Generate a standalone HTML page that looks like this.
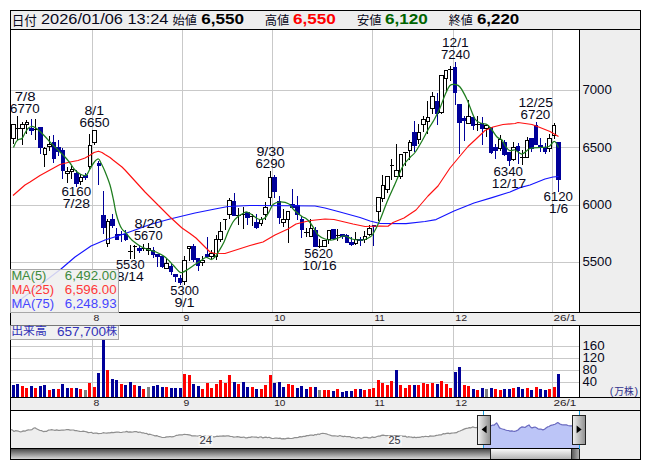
<!DOCTYPE html>
<html lang="ja"><head><meta charset="utf-8"><title>Stock chart</title>
<style>html,body{margin:0;padding:0;background:#fff;overflow:hidden}svg{display:block}text{font-family:"Liberation Sans","Noto Sans CJK JP",sans-serif;white-space:pre}</style>
</head><body>
<svg width="653" height="470" viewBox="0 0 653 470" shape-rendering="crispEdges">
<rect x="0" y="0" width="653" height="470" fill="#fff"/>
<rect x="10" y="10" width="631" height="450" fill="#000"/>
<rect x="11" y="11" width="629" height="448" fill="#eeeeee"/>
<rect x="10" y="29" width="631" height="1" fill="#000"/>
<rect x="11" y="30" width="568" height="282" fill="#fff"/>
<rect x="579" y="29" width="1" height="284" fill="#000"/>
<rect x="10" y="312" width="631" height="1" fill="#000"/>
<rect x="10" y="325" width="631" height="1" fill="#000"/>
<rect x="11" y="326" width="568" height="71" fill="#fff"/>
<rect x="579" y="325" width="1" height="73" fill="#000"/>
<rect x="10" y="397" width="631" height="1" fill="#000"/>
<rect x="10" y="410" width="631" height="1" fill="#000"/>
<rect x="11" y="411" width="568" height="37" fill="#fff"/>
<rect x="10" y="448" width="570" height="1" fill="#000"/>
<rect x="11" y="90" width="568" height="1" fill="#c9c9c9"/>
<rect x="11" y="147" width="568" height="1" fill="#c9c9c9"/>
<rect x="11" y="205" width="568" height="1" fill="#c9c9c9"/>
<rect x="11" y="262" width="568" height="1" fill="#c9c9c9"/>
<rect x="92" y="30" width="1" height="282" fill="#c9c9c9"/>
<rect x="92" y="326" width="1" height="71" fill="#c9c9c9"/>
<rect x="182" y="30" width="1" height="282" fill="#c9c9c9"/>
<rect x="182" y="326" width="1" height="71" fill="#c9c9c9"/>
<rect x="272" y="30" width="1" height="282" fill="#c9c9c9"/>
<rect x="272" y="326" width="1" height="71" fill="#c9c9c9"/>
<rect x="372" y="30" width="1" height="282" fill="#c9c9c9"/>
<rect x="372" y="326" width="1" height="71" fill="#c9c9c9"/>
<rect x="453" y="30" width="1" height="282" fill="#c9c9c9"/>
<rect x="453" y="326" width="1" height="71" fill="#c9c9c9"/>
<rect x="552" y="30" width="1" height="282" fill="#c9c9c9"/>
<rect x="552" y="326" width="1" height="71" fill="#c9c9c9"/>
<rect x="11" y="346" width="568" height="1" fill="#c9c9c9"/>
<rect x="11" y="358" width="568" height="1" fill="#c9c9c9"/>
<rect x="11" y="370" width="568" height="1" fill="#c9c9c9"/>
<rect x="11" y="382" width="568" height="1" fill="#c9c9c9"/>
<g id="candles">
<rect x="13" y="124" width="1" height="20" fill="#000"/>
<rect x="11" y="124" width="5" height="15" fill="#000"/>
<rect x="12" y="125" width="3" height="13" fill="#fff"/>
<rect x="17" y="116" width="1" height="24" fill="#000"/>
<rect x="16" y="128" width="4" height="1" fill="#000"/>
<rect x="22" y="122" width="1" height="23" fill="#000"/>
<rect x="20" y="124" width="5" height="5" fill="#000"/>
<rect x="21" y="125" width="3" height="3" fill="#fff"/>
<rect x="26" y="120" width="1" height="14" fill="#000"/>
<rect x="25" y="122" width="4" height="3" fill="#000"/>
<rect x="26" y="123" width="2" height="1" fill="#fff"/>
<rect x="31" y="119" width="1" height="16" fill="#000099"/>
<rect x="29" y="128" width="5" height="3" fill="#000099"/>
<rect x="35" y="119" width="1" height="21" fill="#000"/>
<rect x="34" y="129" width="4" height="1" fill="#000"/>
<rect x="40" y="127" width="1" height="27" fill="#000099"/>
<rect x="38" y="127" width="5" height="21" fill="#000099"/>
<rect x="44" y="147" width="1" height="20" fill="#000"/>
<rect x="43" y="148" width="4" height="7" fill="#000"/>
<rect x="44" y="149" width="2" height="5" fill="#fff"/>
<rect x="49" y="136" width="1" height="15" fill="#000"/>
<rect x="47" y="144" width="5" height="3" fill="#000"/>
<rect x="48" y="145" width="3" height="1" fill="#fff"/>
<rect x="53" y="135" width="1" height="28" fill="#000099"/>
<rect x="52" y="142" width="4" height="17" fill="#000099"/>
<rect x="58" y="140" width="1" height="16" fill="#000099"/>
<rect x="56" y="147" width="5" height="5" fill="#000099"/>
<rect x="62" y="148" width="1" height="31" fill="#000099"/>
<rect x="61" y="150" width="4" height="21" fill="#000099"/>
<rect x="67" y="167" width="1" height="16" fill="#000"/>
<rect x="65" y="171" width="5" height="3" fill="#000"/>
<rect x="66" y="172" width="3" height="1" fill="#fff"/>
<rect x="71" y="166" width="1" height="13" fill="#000"/>
<rect x="70" y="169" width="4" height="3" fill="#000"/>
<rect x="71" y="170" width="2" height="1" fill="#fff"/>
<rect x="76" y="170" width="1" height="17" fill="#000099"/>
<rect x="74" y="173" width="5" height="11" fill="#000099"/>
<rect x="80" y="174" width="1" height="11" fill="#000"/>
<rect x="79" y="177" width="4" height="5" fill="#000"/>
<rect x="80" y="178" width="2" height="3" fill="#fff"/>
<rect x="85" y="173" width="1" height="7" fill="#000099"/>
<rect x="83" y="175" width="5" height="3" fill="#000099"/>
<rect x="89" y="134" width="1" height="36" fill="#000"/>
<rect x="88" y="145" width="4" height="22" fill="#000"/>
<rect x="89" y="146" width="2" height="20" fill="#fff"/>
<rect x="94" y="130" width="1" height="15" fill="#000"/>
<rect x="92" y="130" width="5" height="13" fill="#000"/>
<rect x="93" y="131" width="3" height="11" fill="#fff"/>
<rect x="98" y="161" width="1" height="24" fill="#000099"/>
<rect x="97" y="163" width="4" height="3" fill="#000099"/>
<rect x="103" y="191" width="1" height="43" fill="#000099"/>
<rect x="101" y="215" width="5" height="13" fill="#000099"/>
<rect x="107" y="219" width="1" height="28" fill="#000"/>
<rect x="106" y="221" width="4" height="23" fill="#000"/>
<rect x="107" y="222" width="2" height="21" fill="#fff"/>
<rect x="112" y="214" width="1" height="14" fill="#000099"/>
<rect x="110" y="219" width="5" height="7" fill="#000099"/>
<rect x="116" y="228" width="1" height="12" fill="#000099"/>
<rect x="115" y="234" width="4" height="6" fill="#000099"/>
<rect x="121" y="231" width="1" height="11" fill="#000099"/>
<rect x="119" y="234" width="5" height="1" fill="#000099"/>
<rect x="125" y="230" width="1" height="11" fill="#000099"/>
<rect x="124" y="234" width="4" height="6" fill="#000099"/>
<rect x="130" y="245" width="1" height="14" fill="#000"/>
<rect x="128" y="251" width="5" height="1" fill="#000"/>
<rect x="134" y="245" width="1" height="14" fill="#000"/>
<rect x="133" y="246" width="4" height="1" fill="#000"/>
<rect x="139" y="245" width="1" height="8" fill="#000099"/>
<rect x="137" y="248" width="5" height="3" fill="#000099"/>
<rect x="143" y="244" width="1" height="7" fill="#000"/>
<rect x="142" y="248" width="4" height="1" fill="#000"/>
<rect x="148" y="243" width="1" height="12" fill="#000"/>
<rect x="146" y="248" width="5" height="3" fill="#000"/>
<rect x="147" y="249" width="3" height="1" fill="#fff"/>
<rect x="153" y="247" width="1" height="11" fill="#000099"/>
<rect x="151" y="250" width="4" height="5" fill="#000099"/>
<rect x="157" y="254" width="1" height="13" fill="#000099"/>
<rect x="155" y="254" width="5" height="3" fill="#000099"/>
<rect x="162" y="256" width="1" height="12" fill="#000099"/>
<rect x="160" y="256" width="4" height="11" fill="#000099"/>
<rect x="166" y="259" width="1" height="10" fill="#000"/>
<rect x="164" y="263" width="5" height="6" fill="#000"/>
<rect x="165" y="264" width="3" height="4" fill="#fff"/>
<rect x="171" y="263" width="1" height="12" fill="#000099"/>
<rect x="169" y="266" width="4" height="6" fill="#000099"/>
<rect x="175" y="274" width="1" height="8" fill="#000099"/>
<rect x="173" y="274" width="5" height="3" fill="#000099"/>
<rect x="180" y="275" width="1" height="10" fill="#000099"/>
<rect x="178" y="278" width="4" height="5" fill="#000099"/>
<rect x="184" y="256" width="1" height="29" fill="#000"/>
<rect x="182" y="260" width="5" height="22" fill="#000"/>
<rect x="183" y="261" width="3" height="20" fill="#fff"/>
<rect x="189" y="246" width="1" height="15" fill="#000"/>
<rect x="187" y="246" width="4" height="3" fill="#000"/>
<rect x="188" y="247" width="2" height="1" fill="#fff"/>
<rect x="193" y="244" width="1" height="18" fill="#000099"/>
<rect x="191" y="246" width="5" height="14" fill="#000099"/>
<rect x="198" y="258" width="1" height="13" fill="#000099"/>
<rect x="196" y="258" width="4" height="8" fill="#000099"/>
<rect x="202" y="256" width="1" height="10" fill="#000"/>
<rect x="200" y="260" width="5" height="3" fill="#000"/>
<rect x="201" y="261" width="3" height="1" fill="#fff"/>
<rect x="207" y="237" width="1" height="20" fill="#000099"/>
<rect x="205" y="254" width="4" height="3" fill="#000099"/>
<rect x="211" y="250" width="1" height="9" fill="#000"/>
<rect x="209" y="253" width="5" height="4" fill="#000"/>
<rect x="210" y="254" width="3" height="2" fill="#fff"/>
<rect x="216" y="235" width="1" height="25" fill="#000"/>
<rect x="214" y="239" width="4" height="18" fill="#000"/>
<rect x="215" y="240" width="2" height="16" fill="#fff"/>
<rect x="220" y="222" width="1" height="20" fill="#000"/>
<rect x="218" y="231" width="5" height="9" fill="#000"/>
<rect x="219" y="232" width="3" height="7" fill="#fff"/>
<rect x="225" y="219" width="1" height="11" fill="#000"/>
<rect x="223" y="219" width="4" height="1" fill="#000"/>
<rect x="229" y="198" width="1" height="21" fill="#000"/>
<rect x="227" y="200" width="5" height="15" fill="#000"/>
<rect x="228" y="201" width="3" height="13" fill="#fff"/>
<rect x="234" y="193" width="1" height="23" fill="#000099"/>
<rect x="232" y="201" width="4" height="15" fill="#000099"/>
<rect x="238" y="208" width="1" height="17" fill="#000"/>
<rect x="236" y="215" width="5" height="1" fill="#000"/>
<rect x="243" y="207" width="1" height="22" fill="#000"/>
<rect x="241" y="214" width="4" height="1" fill="#000"/>
<rect x="247" y="212" width="1" height="13" fill="#000099"/>
<rect x="245" y="212" width="5" height="6" fill="#000099"/>
<rect x="252" y="214" width="1" height="12" fill="#000"/>
<rect x="250" y="216" width="4" height="1" fill="#000"/>
<rect x="256" y="214" width="1" height="15" fill="#000099"/>
<rect x="254" y="222" width="5" height="6" fill="#000099"/>
<rect x="261" y="217" width="1" height="9" fill="#000"/>
<rect x="259" y="219" width="4" height="5" fill="#000"/>
<rect x="260" y="220" width="2" height="3" fill="#fff"/>
<rect x="265" y="202" width="1" height="18" fill="#000"/>
<rect x="263" y="207" width="5" height="8" fill="#000"/>
<rect x="264" y="208" width="3" height="6" fill="#fff"/>
<rect x="270" y="171" width="1" height="35" fill="#000"/>
<rect x="268" y="177" width="4" height="21" fill="#000"/>
<rect x="269" y="178" width="2" height="19" fill="#fff"/>
<rect x="274" y="175" width="1" height="23" fill="#000099"/>
<rect x="272" y="177" width="5" height="15" fill="#000099"/>
<rect x="279" y="196" width="1" height="28" fill="#000099"/>
<rect x="277" y="201" width="4" height="17" fill="#000099"/>
<rect x="283" y="209" width="1" height="18" fill="#000"/>
<rect x="281" y="219" width="5" height="4" fill="#000"/>
<rect x="282" y="220" width="3" height="2" fill="#fff"/>
<rect x="288" y="211" width="1" height="32" fill="#000"/>
<rect x="286" y="211" width="4" height="9" fill="#000"/>
<rect x="287" y="212" width="2" height="7" fill="#fff"/>
<rect x="292" y="189" width="1" height="20" fill="#000099"/>
<rect x="290" y="204" width="5" height="4" fill="#000099"/>
<rect x="297" y="196" width="1" height="24" fill="#000099"/>
<rect x="295" y="205" width="5" height="10" fill="#000099"/>
<rect x="301" y="216" width="1" height="22" fill="#000099"/>
<rect x="300" y="219" width="4" height="11" fill="#000099"/>
<rect x="306" y="228" width="1" height="9" fill="#000"/>
<rect x="304" y="232" width="5" height="1" fill="#000"/>
<rect x="310" y="219" width="1" height="18" fill="#000"/>
<rect x="309" y="228" width="4" height="9" fill="#000"/>
<rect x="310" y="229" width="2" height="7" fill="#fff"/>
<rect x="315" y="227" width="1" height="20" fill="#000099"/>
<rect x="313" y="230" width="5" height="17" fill="#000099"/>
<rect x="319" y="239" width="1" height="9" fill="#000"/>
<rect x="318" y="246" width="4" height="1" fill="#000"/>
<rect x="324" y="240" width="1" height="7" fill="#000"/>
<rect x="322" y="240" width="5" height="7" fill="#000"/>
<rect x="323" y="241" width="3" height="5" fill="#fff"/>
<rect x="328" y="230" width="1" height="14" fill="#000"/>
<rect x="327" y="230" width="4" height="10" fill="#000"/>
<rect x="328" y="231" width="2" height="8" fill="#fff"/>
<rect x="333" y="229" width="1" height="10" fill="#000099"/>
<rect x="331" y="229" width="5" height="10" fill="#000099"/>
<rect x="337" y="229" width="1" height="12" fill="#000"/>
<rect x="336" y="235" width="4" height="1" fill="#000"/>
<rect x="342" y="234" width="1" height="5" fill="#000099"/>
<rect x="340" y="234" width="5" height="3" fill="#000099"/>
<rect x="346" y="234" width="1" height="9" fill="#000099"/>
<rect x="345" y="235" width="4" height="8" fill="#000099"/>
<rect x="351" y="237" width="1" height="9" fill="#000099"/>
<rect x="349" y="242" width="5" height="3" fill="#000099"/>
<rect x="355" y="232" width="1" height="13" fill="#000"/>
<rect x="354" y="239" width="4" height="5" fill="#000"/>
<rect x="355" y="240" width="2" height="3" fill="#fff"/>
<rect x="360" y="237" width="1" height="9" fill="#000099"/>
<rect x="358" y="239" width="5" height="2" fill="#000099"/>
<rect x="364" y="231" width="1" height="12" fill="#000"/>
<rect x="363" y="236" width="4" height="4" fill="#000"/>
<rect x="364" y="237" width="2" height="2" fill="#fff"/>
<rect x="369" y="225" width="1" height="11" fill="#000"/>
<rect x="367" y="228" width="5" height="7" fill="#000"/>
<rect x="368" y="229" width="3" height="5" fill="#fff"/>
<rect x="373" y="225" width="1" height="21" fill="#000099"/>
<rect x="372" y="225" width="4" height="2" fill="#000099"/>
<rect x="378" y="197" width="1" height="24" fill="#000"/>
<rect x="376" y="197" width="5" height="15" fill="#000"/>
<rect x="377" y="198" width="3" height="13" fill="#fff"/>
<rect x="382" y="175" width="1" height="27" fill="#000"/>
<rect x="381" y="185" width="4" height="14" fill="#000"/>
<rect x="382" y="186" width="2" height="12" fill="#fff"/>
<rect x="387" y="176" width="1" height="17" fill="#000"/>
<rect x="385" y="176" width="5" height="14" fill="#000"/>
<rect x="386" y="177" width="3" height="12" fill="#fff"/>
<rect x="391" y="159" width="1" height="21" fill="#000"/>
<rect x="390" y="165" width="4" height="1" fill="#000"/>
<rect x="396" y="144" width="1" height="33" fill="#000"/>
<rect x="394" y="170" width="5" height="7" fill="#000"/>
<rect x="395" y="171" width="3" height="5" fill="#fff"/>
<rect x="400" y="154" width="1" height="25" fill="#000"/>
<rect x="399" y="154" width="4" height="23" fill="#000"/>
<rect x="400" y="155" width="2" height="21" fill="#fff"/>
<rect x="405" y="152" width="1" height="14" fill="#000"/>
<rect x="403" y="152" width="5" height="1" fill="#000"/>
<rect x="409" y="140" width="1" height="20" fill="#000"/>
<rect x="408" y="142" width="4" height="9" fill="#000"/>
<rect x="409" y="143" width="2" height="7" fill="#fff"/>
<rect x="414" y="121" width="1" height="31" fill="#000099"/>
<rect x="412" y="132" width="5" height="14" fill="#000099"/>
<rect x="418" y="124" width="1" height="20" fill="#000"/>
<rect x="417" y="132" width="4" height="8" fill="#000"/>
<rect x="418" y="133" width="2" height="6" fill="#fff"/>
<rect x="423" y="116" width="1" height="16" fill="#000"/>
<rect x="421" y="119" width="5" height="6" fill="#000"/>
<rect x="422" y="120" width="3" height="4" fill="#fff"/>
<rect x="427" y="101" width="1" height="33" fill="#000"/>
<rect x="426" y="117" width="4" height="5" fill="#000"/>
<rect x="427" y="118" width="2" height="3" fill="#fff"/>
<rect x="432" y="92" width="1" height="22" fill="#000"/>
<rect x="430" y="96" width="5" height="13" fill="#000"/>
<rect x="431" y="97" width="3" height="11" fill="#fff"/>
<rect x="437" y="93" width="1" height="32" fill="#000099"/>
<rect x="435" y="101" width="4" height="13" fill="#000099"/>
<rect x="441" y="75" width="1" height="39" fill="#000"/>
<rect x="439" y="75" width="5" height="38" fill="#000"/>
<rect x="440" y="76" width="3" height="36" fill="#fff"/>
<rect x="446" y="70" width="1" height="21" fill="#000"/>
<rect x="444" y="70" width="4" height="9" fill="#000"/>
<rect x="445" y="71" width="2" height="7" fill="#fff"/>
<rect x="450" y="66" width="1" height="15" fill="#000"/>
<rect x="448" y="69" width="5" height="1" fill="#000"/>
<rect x="455" y="62" width="1" height="43" fill="#000099"/>
<rect x="453" y="67" width="4" height="26" fill="#000099"/>
<rect x="459" y="104" width="1" height="50" fill="#000099"/>
<rect x="457" y="104" width="5" height="19" fill="#000099"/>
<rect x="464" y="116" width="1" height="25" fill="#000099"/>
<rect x="462" y="118" width="4" height="3" fill="#000099"/>
<rect x="468" y="100" width="1" height="24" fill="#000"/>
<rect x="466" y="116" width="5" height="8" fill="#000"/>
<rect x="467" y="117" width="3" height="6" fill="#fff"/>
<rect x="473" y="117" width="1" height="13" fill="#000099"/>
<rect x="471" y="117" width="4" height="9" fill="#000099"/>
<rect x="477" y="116" width="1" height="15" fill="#000"/>
<rect x="475" y="124" width="5" height="1" fill="#000"/>
<rect x="482" y="117" width="1" height="28" fill="#000099"/>
<rect x="480" y="123" width="4" height="6" fill="#000099"/>
<rect x="486" y="125" width="1" height="12" fill="#000"/>
<rect x="484" y="125" width="5" height="4" fill="#000"/>
<rect x="485" y="126" width="3" height="2" fill="#fff"/>
<rect x="491" y="127" width="1" height="27" fill="#000099"/>
<rect x="489" y="127" width="4" height="26" fill="#000099"/>
<rect x="495" y="144" width="1" height="15" fill="#000099"/>
<rect x="493" y="147" width="5" height="4" fill="#000099"/>
<rect x="500" y="135" width="1" height="16" fill="#000"/>
<rect x="498" y="139" width="4" height="10" fill="#000"/>
<rect x="499" y="140" width="2" height="8" fill="#fff"/>
<rect x="504" y="140" width="1" height="16" fill="#000099"/>
<rect x="502" y="142" width="5" height="13" fill="#000099"/>
<rect x="509" y="152" width="1" height="14" fill="#000099"/>
<rect x="507" y="152" width="4" height="9" fill="#000099"/>
<rect x="513" y="142" width="1" height="19" fill="#000"/>
<rect x="511" y="147" width="5" height="13" fill="#000"/>
<rect x="512" y="148" width="3" height="11" fill="#fff"/>
<rect x="518" y="143" width="1" height="21" fill="#000099"/>
<rect x="516" y="146" width="4" height="5" fill="#000099"/>
<rect x="522" y="150" width="1" height="15" fill="#000"/>
<rect x="520" y="157" width="5" height="1" fill="#000"/>
<rect x="527" y="137" width="1" height="21" fill="#000"/>
<rect x="525" y="140" width="4" height="18" fill="#000"/>
<rect x="526" y="141" width="2" height="16" fill="#fff"/>
<rect x="531" y="138" width="1" height="14" fill="#000099"/>
<rect x="529" y="138" width="5" height="11" fill="#000099"/>
<rect x="536" y="122" width="1" height="23" fill="#000099"/>
<rect x="534" y="125" width="4" height="20" fill="#000099"/>
<rect x="540" y="138" width="1" height="14" fill="#000099"/>
<rect x="538" y="145" width="5" height="3" fill="#000099"/>
<rect x="545" y="143" width="1" height="11" fill="#000099"/>
<rect x="543" y="147" width="4" height="5" fill="#000099"/>
<rect x="549" y="134" width="1" height="18" fill="#000"/>
<rect x="547" y="138" width="5" height="11" fill="#000"/>
<rect x="548" y="139" width="3" height="9" fill="#fff"/>
<rect x="554" y="123" width="1" height="16" fill="#000"/>
<rect x="552" y="125" width="4" height="11" fill="#000"/>
<rect x="553" y="126" width="2" height="9" fill="#fff"/>
<rect x="558" y="142" width="1" height="50" fill="#000099"/>
<rect x="556" y="142" width="5" height="38" fill="#000099"/>
</g>
<g fill="none" stroke-width="1.15" shape-rendering="geometricPrecision" stroke-linejoin="round">
<path d="M13.0,306.0 L20.0,300.0 L40.0,285.0 L61.0,269.0 L75.0,257.0 L91.0,246.0 L105.0,240.0 L121.0,235.0 L135.0,230.0 L150.0,224.5 L170.0,219.0 L195.0,213.0 L215.0,209.0 L228.0,206.5 L250.0,205.5 L290.0,205.8 L315.0,206.0 L325.0,208.0 L340.0,212.0 L360.0,217.5 L370.0,221.0 L380.0,223.5 L406.0,223.6 L425.0,221.5 L436.0,219.6 L454.0,211.0 L474.0,203.0 L492.0,197.6 L510.0,192.0 L520.0,187.6 L530.0,185.0 L545.0,179.0 L553.0,177.0 L558.5,176.5" stroke="#1414ff"/>
<path d="M13.0,195.5 L25.0,185.0 L30.0,182.0 L40.0,175.5 L50.0,170.0 L60.0,164.5 L70.0,162.0 L78.0,160.5 L85.0,158.0 L90.0,155.3 L94.0,152.5 L98.5,151.2 L102.0,152.5 L105.0,154.5 L110.0,157.5 L113.0,160.0 L122.0,167.0 L125.0,170.0 L135.0,181.0 L145.0,192.0 L150.0,197.0 L160.0,207.0 L170.0,217.0 L182.0,228.0 L190.0,233.5 L196.0,238.0 L203.0,245.0 L210.0,252.0 L214.0,253.3 L225.0,253.5 L250.0,245.5 L263.0,242.0 L275.0,235.0 L288.0,229.0 L296.0,224.0 L306.0,221.5 L311.0,220.5 L325.0,219.0 L334.0,219.5 L353.0,224.0 L365.0,226.5 L380.0,226.0 L388.0,226.3 L393.0,222.5 L404.0,218.0 L416.0,210.0 L428.0,196.0 L438.0,186.0 L450.0,168.0 L460.0,156.0 L468.0,146.5 L475.0,140.0 L485.0,130.5 L493.0,127.0 L503.0,124.5 L515.0,123.5 L518.0,122.5 L532.0,124.5 L540.0,127.5 L550.0,131.5 L558.5,136.5" stroke="#ff1010"/>
<path d="M13.5,147.5C13.9,146.6 15.2,143.3 16.0,142.0C16.8,140.7 17.5,140.1 18.5,139.5C19.5,138.9 20.9,139.6 22.0,138.5C23.1,137.4 24.0,134.7 25.0,133.0C26.0,131.3 26.9,129.6 28.0,128.5C29.1,127.4 30.3,126.7 31.5,126.5C32.7,126.3 33.6,126.7 35.0,127.5C36.4,128.3 38.3,130.0 40.0,131.5C41.7,133.0 43.3,134.8 45.0,136.5C46.7,138.2 48.3,140.2 50.0,142.0C51.7,143.8 53.3,145.3 55.0,147.0C56.7,148.7 58.3,150.3 60.0,152.0C61.7,153.7 63.3,155.2 65.0,157.0C66.7,158.8 68.3,160.8 70.0,163.0C71.7,165.2 73.3,168.2 75.0,170.0C76.7,171.8 78.5,173.1 80.0,174.0C81.5,174.9 82.8,175.4 84.0,175.5C85.2,175.6 86.0,175.6 87.0,174.5C88.0,173.4 88.8,171.0 90.0,169.0C91.2,167.0 92.6,164.2 94.0,162.5C95.4,160.8 97.3,158.9 98.5,159.0C99.7,159.1 99.9,160.9 101.0,163.0C102.1,165.1 103.5,167.8 105.0,171.5C106.5,175.2 108.6,180.2 110.0,185.0C111.4,189.8 112.5,195.3 113.5,200.0C114.5,204.7 115.1,209.2 116.0,213.0C116.9,216.8 118.0,220.3 119.0,223.0C120.0,225.7 120.8,227.3 122.0,229.0C123.2,230.7 124.7,231.5 126.0,233.0C127.3,234.5 128.8,236.7 130.0,238.0C131.2,239.3 131.3,239.7 133.0,241.0C134.7,242.3 137.5,244.6 140.0,246.0C142.5,247.4 145.3,248.5 148.0,249.5C150.7,250.5 153.2,250.8 156.0,252.0C158.8,253.2 162.2,254.8 165.0,257.0C167.8,259.2 170.7,262.6 173.0,265.0C175.3,267.4 177.5,270.2 179.0,271.5C180.5,272.8 180.7,272.8 182.0,272.5C183.3,272.2 184.8,271.3 187.0,270.0C189.2,268.7 192.7,266.1 195.0,264.5C197.3,262.9 199.2,261.7 201.0,260.5C202.8,259.3 204.2,257.7 206.0,257.5C207.8,257.3 210.0,259.6 211.5,259.5C213.0,259.4 213.8,258.4 215.0,257.0C216.2,255.6 217.5,253.5 219.0,251.0C220.5,248.5 222.5,245.2 224.0,242.0C225.5,238.8 226.5,235.3 228.0,232.0C229.5,228.7 231.3,224.6 233.0,222.0C234.7,219.4 236.3,217.9 238.0,216.5C239.7,215.1 241.5,214.2 243.0,213.5C244.5,212.8 245.3,211.7 247.0,212.0C248.7,212.3 251.3,214.4 253.0,215.5C254.7,216.6 255.7,217.8 257.0,218.5C258.3,219.2 259.6,219.7 261.0,219.5C262.4,219.3 264.2,218.8 265.5,217.5C266.8,216.2 267.8,214.2 269.0,212.0C270.2,209.8 271.2,206.2 273.0,204.5C274.8,202.8 277.3,202.1 280.0,202.0C282.7,201.9 286.7,202.7 289.0,204.0C291.3,205.3 291.8,207.9 294.0,210.0C296.2,212.1 300.0,215.1 302.0,216.5C304.0,217.9 304.7,217.5 306.0,218.5C307.3,219.5 308.5,220.6 310.0,222.5C311.5,224.4 313.7,227.9 315.0,230.0C316.3,232.1 316.3,233.5 318.0,235.0C319.7,236.5 322.7,238.2 325.0,239.0C327.3,239.8 329.8,240.2 332.0,240.0C334.2,239.8 335.8,238.7 338.0,238.0C340.2,237.3 342.7,235.8 345.0,236.0C347.3,236.2 349.7,238.3 352.0,239.0C354.3,239.7 356.8,239.9 359.0,240.0C361.2,240.1 363.2,240.0 365.0,239.5C366.8,239.0 368.7,237.9 370.0,237.0C371.3,236.1 371.3,236.8 373.0,234.0C374.7,231.2 377.7,225.3 380.0,220.0C382.3,214.7 384.5,208.0 387.0,202.0C389.5,196.0 392.3,190.0 395.0,184.0C397.7,178.0 400.5,170.4 403.0,166.0C405.5,161.6 408.0,159.8 410.0,157.5C412.0,155.2 413.0,155.2 415.0,152.5C417.0,149.8 419.7,145.1 422.0,141.0C424.3,136.9 427.0,131.5 429.0,128.0C431.0,124.5 432.2,123.3 434.0,120.0C435.8,116.7 438.2,112.2 440.0,108.0C441.8,103.8 443.3,98.8 445.0,95.0C446.7,91.2 448.3,87.2 450.0,85.5C451.7,83.8 453.3,84.2 455.0,84.5C456.7,84.8 458.0,84.5 460.0,87.0C462.0,89.5 464.5,94.2 467.0,99.5C469.5,104.8 472.5,115.0 475.0,119.0C477.5,123.0 480.0,122.6 482.0,123.5C484.0,124.4 485.3,123.4 487.0,124.5C488.7,125.6 490.3,127.9 492.0,130.0C493.7,132.1 495.3,135.3 497.0,137.0C498.7,138.7 500.7,138.6 502.0,140.0C503.3,141.4 503.8,143.8 505.0,145.5C506.2,147.2 507.8,149.8 509.5,150.5C511.2,151.2 512.9,149.4 515.0,150.0C517.1,150.6 519.5,154.2 522.0,154.0C524.5,153.8 526.8,149.6 530.0,148.5C533.2,147.4 537.8,147.8 541.0,147.5C544.2,147.2 546.8,147.5 549.0,146.5C551.2,145.5 552.9,141.3 554.5,141.5C556.1,141.7 557.8,146.5 558.5,147.5" stroke="#1e7d1e" stroke-width="1.25"/>
</g>
<g id="vol">
<rect x="12" y="385" width="3" height="12" fill="#000099"/>
<rect x="16" y="384" width="3" height="13" fill="#000099"/>
<rect x="21" y="386" width="3" height="11" fill="#ff0000"/>
<rect x="25" y="388" width="3" height="9" fill="#ff0000"/>
<rect x="30" y="386" width="3" height="11" fill="#000099"/>
<rect x="34" y="388" width="3" height="9" fill="#ff0000"/>
<rect x="39" y="386" width="3" height="11" fill="#000099"/>
<rect x="43" y="385" width="3" height="12" fill="#000099"/>
<rect x="48" y="390" width="3" height="7" fill="#ff0000"/>
<rect x="52" y="389" width="3" height="8" fill="#000099"/>
<rect x="57" y="389" width="3" height="8" fill="#ff0000"/>
<rect x="61" y="384" width="3" height="13" fill="#000099"/>
<rect x="66" y="388" width="3" height="9" fill="#000099"/>
<rect x="70" y="388" width="3" height="9" fill="#ff0000"/>
<rect x="75" y="388" width="3" height="9" fill="#000099"/>
<rect x="79" y="389" width="3" height="8" fill="#ff0000"/>
<rect x="84" y="390" width="3" height="7" fill="#808080"/>
<rect x="88" y="383" width="3" height="14" fill="#ff0000"/>
<rect x="93" y="387" width="3" height="10" fill="#ff0000"/>
<rect x="97" y="373" width="3" height="24" fill="#000099"/>
<rect x="102" y="340" width="3" height="57" fill="#000099"/>
<rect x="106" y="370" width="3" height="27" fill="#ff0000"/>
<rect x="111" y="379" width="3" height="18" fill="#000099"/>
<rect x="115" y="380" width="3" height="17" fill="#000099"/>
<rect x="120" y="384" width="3" height="13" fill="#ff0000"/>
<rect x="124" y="385" width="3" height="12" fill="#000099"/>
<rect x="129" y="382" width="3" height="15" fill="#000099"/>
<rect x="133" y="385" width="3" height="12" fill="#ff0000"/>
<rect x="138" y="386" width="3" height="11" fill="#000099"/>
<rect x="142" y="389" width="3" height="8" fill="#ff0000"/>
<rect x="147" y="387" width="3" height="10" fill="#808080"/>
<rect x="152" y="386" width="3" height="11" fill="#000099"/>
<rect x="156" y="385" width="3" height="12" fill="#000099"/>
<rect x="161" y="387" width="3" height="10" fill="#000099"/>
<rect x="165" y="387" width="3" height="10" fill="#ff0000"/>
<rect x="170" y="388" width="3" height="9" fill="#000099"/>
<rect x="174" y="388" width="3" height="9" fill="#000099"/>
<rect x="179" y="388" width="3" height="9" fill="#000099"/>
<rect x="183" y="374" width="3" height="23" fill="#ff0000"/>
<rect x="188" y="375" width="3" height="22" fill="#ff0000"/>
<rect x="192" y="384" width="3" height="13" fill="#000099"/>
<rect x="197" y="386" width="3" height="11" fill="#000099"/>
<rect x="201" y="389" width="3" height="8" fill="#ff0000"/>
<rect x="206" y="383" width="3" height="14" fill="#ff0000"/>
<rect x="210" y="388" width="3" height="9" fill="#ff0000"/>
<rect x="215" y="384" width="3" height="13" fill="#ff0000"/>
<rect x="219" y="380" width="3" height="17" fill="#ff0000"/>
<rect x="224" y="383" width="3" height="14" fill="#ff0000"/>
<rect x="228" y="375" width="3" height="22" fill="#ff0000"/>
<rect x="233" y="382" width="3" height="15" fill="#000099"/>
<rect x="237" y="384" width="3" height="13" fill="#ff0000"/>
<rect x="242" y="382" width="3" height="15" fill="#000099"/>
<rect x="246" y="387" width="3" height="10" fill="#000099"/>
<rect x="251" y="387" width="3" height="10" fill="#ff0000"/>
<rect x="255" y="389" width="3" height="8" fill="#000099"/>
<rect x="260" y="389" width="3" height="8" fill="#ff0000"/>
<rect x="264" y="385" width="3" height="12" fill="#ff0000"/>
<rect x="269" y="375" width="3" height="22" fill="#ff0000"/>
<rect x="273" y="383" width="3" height="14" fill="#000099"/>
<rect x="278" y="382" width="3" height="15" fill="#000099"/>
<rect x="282" y="387" width="3" height="10" fill="#000099"/>
<rect x="287" y="384" width="3" height="13" fill="#ff0000"/>
<rect x="291" y="385" width="3" height="12" fill="#ff0000"/>
<rect x="296" y="388" width="3" height="9" fill="#000099"/>
<rect x="300" y="386" width="3" height="11" fill="#000099"/>
<rect x="305" y="389" width="3" height="8" fill="#000099"/>
<rect x="309" y="387" width="3" height="10" fill="#ff0000"/>
<rect x="314" y="387" width="3" height="10" fill="#000099"/>
<rect x="318" y="390" width="3" height="7" fill="#808080"/>
<rect x="323" y="390" width="3" height="7" fill="#ff0000"/>
<rect x="327" y="390" width="3" height="7" fill="#ff0000"/>
<rect x="332" y="391" width="3" height="6" fill="#000099"/>
<rect x="336" y="389" width="3" height="8" fill="#ff0000"/>
<rect x="341" y="392" width="3" height="5" fill="#000099"/>
<rect x="345" y="391" width="3" height="6" fill="#000099"/>
<rect x="350" y="391" width="3" height="6" fill="#000099"/>
<rect x="354" y="389" width="3" height="8" fill="#ff0000"/>
<rect x="359" y="389" width="3" height="8" fill="#000099"/>
<rect x="363" y="390" width="3" height="7" fill="#ff0000"/>
<rect x="368" y="389" width="3" height="8" fill="#ff0000"/>
<rect x="372" y="388" width="3" height="9" fill="#ff0000"/>
<rect x="377" y="380" width="3" height="17" fill="#ff0000"/>
<rect x="381" y="383" width="3" height="14" fill="#ff0000"/>
<rect x="386" y="385" width="3" height="12" fill="#ff0000"/>
<rect x="390" y="381" width="3" height="16" fill="#ff0000"/>
<rect x="395" y="370" width="3" height="27" fill="#000099"/>
<rect x="399" y="385" width="3" height="12" fill="#ff0000"/>
<rect x="404" y="388" width="3" height="9" fill="#ff0000"/>
<rect x="408" y="385" width="3" height="12" fill="#ff0000"/>
<rect x="413" y="385" width="3" height="12" fill="#000099"/>
<rect x="417" y="385" width="3" height="12" fill="#ff0000"/>
<rect x="422" y="383" width="3" height="14" fill="#ff0000"/>
<rect x="426" y="384" width="3" height="13" fill="#ff0000"/>
<rect x="431" y="383" width="3" height="14" fill="#ff0000"/>
<rect x="436" y="384" width="3" height="13" fill="#000099"/>
<rect x="440" y="381" width="3" height="16" fill="#ff0000"/>
<rect x="445" y="384" width="3" height="13" fill="#ff0000"/>
<rect x="449" y="388" width="3" height="9" fill="#ff0000"/>
<rect x="454" y="372" width="3" height="25" fill="#000099"/>
<rect x="458" y="367" width="3" height="30" fill="#000099"/>
<rect x="463" y="385" width="3" height="12" fill="#ff0000"/>
<rect x="467" y="386" width="3" height="11" fill="#ff0000"/>
<rect x="472" y="389" width="3" height="8" fill="#000099"/>
<rect x="476" y="390" width="3" height="7" fill="#ff0000"/>
<rect x="481" y="388" width="3" height="9" fill="#000099"/>
<rect x="485" y="389" width="3" height="8" fill="#808080"/>
<rect x="490" y="388" width="3" height="9" fill="#000099"/>
<rect x="494" y="389" width="3" height="8" fill="#ff0000"/>
<rect x="499" y="390" width="3" height="7" fill="#ff0000"/>
<rect x="503" y="389" width="3" height="8" fill="#000099"/>
<rect x="508" y="389" width="3" height="8" fill="#000099"/>
<rect x="512" y="388" width="3" height="9" fill="#ff0000"/>
<rect x="517" y="387" width="3" height="10" fill="#000099"/>
<rect x="521" y="389" width="3" height="8" fill="#000099"/>
<rect x="526" y="388" width="3" height="9" fill="#ff0000"/>
<rect x="530" y="390" width="3" height="7" fill="#000099"/>
<rect x="535" y="387" width="3" height="10" fill="#ff0000"/>
<rect x="539" y="389" width="3" height="8" fill="#000099"/>
<rect x="544" y="390" width="3" height="7" fill="#000099"/>
<rect x="548" y="389" width="3" height="8" fill="#ff0000"/>
<rect x="553" y="387" width="3" height="10" fill="#ff0000"/>
<rect x="557" y="374" width="3" height="23" fill="#000099"/>
</g>
<g id="labels" shape-rendering="geometricPrecision">
<text x="14.80" y="101.00" font-size="12.0" fill="#08081a" textLength="20.80" lengthAdjust="spacingAndGlyphs">7/8</text>
<text x="10.00" y="113.00" font-size="12.0" fill="#08081a" textLength="29.60" lengthAdjust="spacingAndGlyphs">6770</text>
<text x="84.40" y="115.00" font-size="12.0" fill="#08081a" textLength="19.60" lengthAdjust="spacingAndGlyphs">8/1</text>
<text x="79.40" y="127.10" font-size="12.0" fill="#08081a" textLength="30.20" lengthAdjust="spacingAndGlyphs">6650</text>
<text x="61.40" y="196.00" font-size="12.0" fill="#08081a" textLength="29.80" lengthAdjust="spacingAndGlyphs">6160</text>
<text x="62.80" y="208.00" font-size="12.0" fill="#08081a" textLength="27.20" lengthAdjust="spacingAndGlyphs">7/28</text>
<text x="134.40" y="228.10" font-size="12.0" fill="#08081a" textLength="28.20" lengthAdjust="spacingAndGlyphs">8/20</text>
<text x="133.95" y="240.10" font-size="12.0" fill="#08081a" textLength="28.70" lengthAdjust="spacingAndGlyphs">5670</text>
<text x="115.95" y="269.10" font-size="12.0" fill="#08081a" textLength="28.70" lengthAdjust="spacingAndGlyphs">5530</text>
<text x="116.70" y="281.10" font-size="12.0" fill="#08081a" textLength="27.20" lengthAdjust="spacingAndGlyphs">8/14</text>
<text x="170.35" y="295.10" font-size="12.0" fill="#08081a" textLength="28.70" lengthAdjust="spacingAndGlyphs">5300</text>
<text x="174.40" y="307.10" font-size="12.0" fill="#08081a" textLength="20.20" lengthAdjust="spacingAndGlyphs">9/1</text>
<text x="256.40" y="156.20" font-size="12.0" fill="#08081a" textLength="27.80" lengthAdjust="spacingAndGlyphs">9/30</text>
<text x="255.40" y="168.20" font-size="12.0" fill="#08081a" textLength="29.60" lengthAdjust="spacingAndGlyphs">6290</text>
<text x="304.35" y="258.10" font-size="12.0" fill="#08081a" textLength="28.70" lengthAdjust="spacingAndGlyphs">5620</text>
<text x="302.30" y="270.10" font-size="12.0" fill="#08081a" textLength="34.40" lengthAdjust="spacingAndGlyphs">10/16</text>
<text x="441.95" y="47.10" font-size="12.0" fill="#08081a" textLength="26.70" lengthAdjust="spacingAndGlyphs">12/1</text>
<text x="440.90" y="59.10" font-size="12.0" fill="#08081a" textLength="29.20" lengthAdjust="spacingAndGlyphs">7240</text>
<text x="518.40" y="106.90" font-size="12.0" fill="#08081a" textLength="34.60" lengthAdjust="spacingAndGlyphs">12/25</text>
<text x="520.50" y="118.90" font-size="12.0" fill="#08081a" textLength="29.80" lengthAdjust="spacingAndGlyphs">6720</text>
<text x="493.40" y="176.40" font-size="12.0" fill="#08081a" textLength="29.60" lengthAdjust="spacingAndGlyphs">6340</text>
<text x="491.80" y="188.40" font-size="12.0" fill="#08081a" textLength="34.40" lengthAdjust="spacingAndGlyphs">12/17</text>
<text x="543.40" y="201.20" font-size="12.0" fill="#08081a" textLength="29.60" lengthAdjust="spacingAndGlyphs">6120</text>
<text x="549.00" y="212.90" font-size="12.0" fill="#08081a" textLength="19.20" lengthAdjust="spacingAndGlyphs">1/6</text>
</g>
<rect x="10.5" y="269.5" width="108" height="43" fill="#efefef" fill-opacity="0.86" stroke="#a8a8a8" stroke-width="1"/>
<g shape-rendering="geometricPrecision">
<text x="11.40" y="280.30" font-size="12.4" fill="#3c8a3c" textLength="35.00" lengthAdjust="spacingAndGlyphs">MA(5)</text>
<text x="64.80" y="280.30" font-size="12.4" fill="#3c8a3c" textLength="51.80" lengthAdjust="spacingAndGlyphs">6,492.00</text>
<text x="11.40" y="294.30" font-size="12.4" fill="#ff3838" textLength="42.60" lengthAdjust="spacingAndGlyphs">MA(25)</text>
<text x="64.80" y="294.30" font-size="12.4" fill="#ff3838" textLength="51.80" lengthAdjust="spacingAndGlyphs">6,596.00</text>
<text x="11.40" y="308.30" font-size="12.4" fill="#4646ff" textLength="42.60" lengthAdjust="spacingAndGlyphs">MA(75)</text>
<text x="64.80" y="308.30" font-size="12.4" fill="#4646ff" textLength="51.80" lengthAdjust="spacingAndGlyphs">6,248.93</text>
</g>
<rect x="10.5" y="325.5" width="108" height="14" fill="#efefef" fill-opacity="0.86" stroke="#a8a8a8" stroke-width="1"/>
<rect x="10" y="325" width="110" height="1" fill="#777"/>
<g shape-rendering="geometricPrecision">
<text x="11.16" y="335.48" font-size="11.9" fill="#3232b8" textLength="35.60" lengthAdjust="spacingAndGlyphs">出来高</text>
<text x="57.00" y="335.80" font-size="12.4" fill="#3232b8" textLength="49.10" lengthAdjust="spacingAndGlyphs">657,700</text>
<text x="105.84" y="335.49" font-size="11.4" fill="#3232b8">株</text>
</g>
<g shape-rendering="geometricPrecision">
<text x="582.40" y="94.00" font-size="12.6" fill="#08081a" textLength="29.40" lengthAdjust="spacingAndGlyphs">7000</text>
<text x="582.40" y="151.50" font-size="12.6" fill="#08081a" textLength="29.40" lengthAdjust="spacingAndGlyphs">6500</text>
<text x="582.40" y="209.00" font-size="12.6" fill="#08081a" textLength="29.40" lengthAdjust="spacingAndGlyphs">6000</text>
<text x="582.40" y="266.10" font-size="12.6" fill="#08081a" textLength="29.40" lengthAdjust="spacingAndGlyphs">5500</text>
<text x="582.40" y="350.20" font-size="12.6" fill="#08081a" textLength="22.20" lengthAdjust="spacingAndGlyphs">160</text>
<text x="582.40" y="362.20" font-size="12.6" fill="#08081a" textLength="22.20" lengthAdjust="spacingAndGlyphs">120</text>
<text x="582.40" y="374.20" font-size="12.6" fill="#08081a" textLength="14.50" lengthAdjust="spacingAndGlyphs">80</text>
<text x="582.40" y="386.20" font-size="12.6" fill="#08081a" textLength="14.50" lengthAdjust="spacingAndGlyphs">40</text>
<g fill="#33339a">
<text x="609.80" y="395.30" font-size="11.8" fill="#30308c" textLength="3.60" lengthAdjust="spacingAndGlyphs">(</text>
<text x="614.27" y="395.15" font-size="10.0" fill="#30308c" textLength="19.50" lengthAdjust="spacingAndGlyphs">万株</text>
<text x="634.40" y="395.30" font-size="11.8" fill="#30308c" textLength="3.60" lengthAdjust="spacingAndGlyphs">)</text>
</g>
<text x="93.60" y="321.00" font-size="9.9" fill="#2a2226" textLength="5.80" lengthAdjust="spacingAndGlyphs">8</text>
<text x="93.60" y="406.00" font-size="9.9" fill="#2a2226" textLength="5.80" lengthAdjust="spacingAndGlyphs">8</text>
<text x="183.60" y="321.00" font-size="9.9" fill="#2a2226" textLength="5.80" lengthAdjust="spacingAndGlyphs">9</text>
<text x="183.60" y="406.00" font-size="9.9" fill="#2a2226" textLength="5.80" lengthAdjust="spacingAndGlyphs">9</text>
<text x="274.20" y="321.00" font-size="9.9" fill="#2a2226" textLength="11.20" lengthAdjust="spacingAndGlyphs">10</text>
<text x="274.20" y="406.00" font-size="9.9" fill="#2a2226" textLength="11.20" lengthAdjust="spacingAndGlyphs">10</text>
<text x="374.60" y="321.00" font-size="9.9" fill="#2a2226" textLength="10.30" lengthAdjust="spacingAndGlyphs">11</text>
<text x="374.60" y="406.00" font-size="9.9" fill="#2a2226" textLength="10.30" lengthAdjust="spacingAndGlyphs">11</text>
<text x="455.30" y="321.00" font-size="9.9" fill="#2a2226" textLength="11.80" lengthAdjust="spacingAndGlyphs">12</text>
<text x="455.30" y="406.00" font-size="9.9" fill="#2a2226" textLength="11.80" lengthAdjust="spacingAndGlyphs">12</text>
<text x="553.60" y="321.00" font-size="9.9" fill="#2a2226" textLength="22.80" lengthAdjust="spacingAndGlyphs">26/1</text>
<text x="553.60" y="406.00" font-size="9.9" fill="#2a2226" textLength="22.80" lengthAdjust="spacingAndGlyphs">26/1</text>
</g>
<g shape-rendering="geometricPrecision">
<text x="11.68" y="24.99" font-size="12.6" fill="#08081a" textLength="25.20" lengthAdjust="spacingAndGlyphs">日付</text>
<text x="41.00" y="24.20" font-size="14.2" fill="#08081a" textLength="127.40" lengthAdjust="spacingAndGlyphs">2026/01/06 13:24</text>
<text x="172.56" y="25.08" font-size="12.2" fill="#08081a" textLength="24.30" lengthAdjust="spacingAndGlyphs">始値</text>
<text x="201.20" y="24.20" font-size="14.2" fill="#000" font-weight="bold" textLength="42.80" lengthAdjust="spacingAndGlyphs">6,550</text>
<text x="264.80" y="25.12" font-size="12.3" fill="#08081a" textLength="24.60" lengthAdjust="spacingAndGlyphs">高値</text>
<text x="292.90" y="24.20" font-size="14.2" fill="#ff0000" font-weight="bold" textLength="42.90" lengthAdjust="spacingAndGlyphs">6,550</text>
<text x="356.90" y="25.10" font-size="12.2" fill="#08081a" textLength="24.50" lengthAdjust="spacingAndGlyphs">安値</text>
<text x="384.90" y="24.20" font-size="14.2" fill="#006400" font-weight="bold" textLength="42.90" lengthAdjust="spacingAndGlyphs">6,120</text>
<text x="448.70" y="25.06" font-size="12.1" fill="#08081a" textLength="24.10" lengthAdjust="spacingAndGlyphs">終値</text>
<text x="476.90" y="24.20" font-size="14.2" fill="#000" font-weight="bold" textLength="42.30" lengthAdjust="spacingAndGlyphs">6,220</text>
</g>
<defs>
<linearGradient id="sb" x1="0" y1="0" x2="0" y2="1"><stop offset="0" stop-color="#4a4a4a"/><stop offset="1" stop-color="#d8d8d8"/></linearGradient>
<linearGradient id="th" x1="0" y1="0" x2="0" y2="1"><stop offset="0" stop-color="#fafafa"/><stop offset="1" stop-color="#b4b4b4"/></linearGradient>
<linearGradient id="gr" x1="0" y1="0" x2="1" y2="0"><stop offset="0" stop-color="#5a5a5a"/><stop offset="1" stop-color="#b0b0b0"/></linearGradient>
<linearGradient id="hd" x1="0" y1="0" x2="1" y2="0"><stop offset="0" stop-color="#f2f2f2"/><stop offset="1" stop-color="#8e8e8e"/></linearGradient>
</defs>
<path d="M11.0,429.5 L12.5,430.1 L14.0,431.5 L15.5,430.7 L17.0,430.8 L18.5,431.2 L20.0,431.8 L21.7,431.6 L23.3,430.9 L25.0,431.2 L26.7,430.3 L28.3,429.9 L30.0,430.0 L32.0,429.6 L33.5,428.3 L35.0,427.8 L36.5,428.8 L38.0,429.5 L40.0,430.5 L41.7,430.7 L43.3,431.6 L45.0,431.3 L46.7,431.3 L48.3,430.2 L50.0,430.0 L51.7,429.7 L53.3,430.0 L55.0,430.3 L56.7,429.9 L58.3,430.3 L60.0,430.3 L61.7,430.0 L63.3,430.1 L65.0,430.0 L66.8,429.5 L68.5,429.7 L70.2,430.2 L72.0,430.0 L73.5,430.0 L75.0,430.6 L76.5,430.7 L78.0,431.0 L79.8,431.4 L81.5,431.5 L83.2,431.1 L85.0,431.5 L86.7,431.9 L88.3,432.6 L90.0,432.5 L91.7,432.4 L93.3,433.4 L95.0,433.0 L96.7,433.1 L98.3,433.6 L100.0,433.5 L101.7,433.3 L103.3,432.7 L105.0,433.0 L106.7,433.2 L108.3,432.9 L110.0,432.8 L111.6,432.4 L113.2,432.7 L114.8,432.4 L116.4,432.2 L118.0,432.0 L119.8,432.4 L121.5,432.5 L123.2,432.0 L125.0,432.0 L126.7,431.4 L128.3,432.1 L130.0,431.9 L131.7,432.2 L133.3,431.9 L135.0,431.5 L136.7,431.7 L138.3,432.4 L140.0,432.0 L141.7,432.8 L143.3,432.8 L145.0,433.5 L146.7,433.4 L148.3,434.6 L150.0,434.2 L151.7,434.8 L153.3,435.3 L155.0,435.8 L156.7,435.6 L158.3,436.3 L160.0,436.7 L161.7,437.3 L163.3,437.5 L165.0,437.4 L166.7,436.9 L168.3,436.8 L170.0,436.5 L171.7,436.9 L173.3,436.7 L175.0,436.0 L176.5,435.3 L178.0,435.1 L179.5,434.8 L181.0,434.8 L182.7,434.8 L184.3,434.3 L186.0,434.5 L187.5,434.6 L189.0,434.8 L190.5,435.2 L192.0,435.9 L193.5,435.8 L195.0,435.8 L196.7,436.0 L198.3,436.1 L200.0,435.5 L201.7,436.5 L203.3,436.4 L205.0,436.2 L206.7,436.6 L208.3,436.3 L210.0,436.4 L211.7,436.2 L213.3,436.8 L215.0,436.8 L216.7,436.2 L218.3,436.3 L220.0,436.1 L221.7,436.2 L223.3,435.8 L225.0,436.2 L226.8,435.9 L228.5,435.9 L230.2,436.3 L232.0,436.5 L233.7,437.1 L235.4,437.0 L237.2,436.7 L238.9,436.9 L240.6,437.4 L242.2,437.3 L243.8,437.0 L245.4,437.8 L247.0,437.9 L248.6,437.4 L250.2,437.4 L251.8,436.9 L253.3,437.0 L254.9,437.2 L256.5,437.1 L258.1,437.8 L259.7,437.0 L261.3,436.9 L262.9,437.9 L264.5,437.4 L266.0,437.1 L267.5,437.7 L269.0,437.2 L270.5,437.9 L272.0,438.5 L273.5,438.5 L275.0,438.2 L276.7,438.0 L278.3,438.3 L280.0,438.1 L281.7,438.9 L283.3,438.7 L285.0,438.8 L286.7,438.4 L288.3,438.1 L290.0,438.5 L291.7,438.5 L293.3,438.1 L295.0,437.5 L296.7,437.7 L298.3,437.4 L300.0,436.6 L301.7,436.8 L303.3,436.4 L305.0,436.4 L306.8,435.6 L308.5,435.6 L310.2,435.2 L312.0,435.2 L313.5,435.4 L315.0,434.5 L316.5,434.8 L318.0,434.0 L319.6,434.3 L321.2,433.5 L322.8,433.4 L324.5,433.5 L326.3,433.8 L328.0,434.5 L329.7,435.0 L331.4,435.6 L333.0,435.8 L334.7,435.8 L336.4,436.0 L338.1,436.3 L339.9,435.5 L341.6,436.2 L343.3,436.6 L345.0,436.2 L346.6,436.7 L348.2,436.7 L349.8,436.6 L351.4,437.6 L353.0,437.3 L354.6,437.8 L356.2,438.3 L357.7,437.7 L359.3,437.7 L360.8,438.3 L362.4,438.0 L363.9,437.4 L365.5,437.4 L367.0,437.4 L368.6,437.8 L370.3,437.9 L372.0,436.9 L373.6,437.4 L375.3,437.3 L377.0,436.5 L378.5,436.1 L380.0,436.1 L381.5,435.4 L383.0,435.1 L384.5,435.4 L386.0,435.6 L387.5,435.6 L389.0,436.1 L390.5,435.6 L392.0,435.8 L393.5,436.2 L395.0,435.6 L396.5,435.7 L398.0,435.8 L399.5,435.8 L401.0,436.2 L402.5,436.1 L404.0,436.4 L405.5,436.2 L407.0,437.2 L408.5,436.7 L410.0,437.0 L411.5,437.2 L413.0,437.6 L414.5,437.1 L416.0,437.7 L417.5,437.3 L419.0,437.4 L420.6,437.2 L422.2,436.5 L423.8,436.8 L425.4,436.3 L427.0,436.5 L428.6,436.7 L430.1,435.9 L431.7,436.1 L433.2,436.2 L434.8,435.8 L436.5,435.3 L438.1,435.2 L439.8,434.9 L441.5,434.8 L443.1,433.7 L444.8,433.8 L446.4,433.4 L448.1,433.2 L449.8,433.6 L451.4,433.1 L453.1,433.0 L454.7,432.8 L456.5,432.7 L458.2,431.5 L460.0,431.0 L461.6,430.3 L463.1,429.6 L464.7,428.9 L466.3,428.4 L467.9,428.1 L469.4,427.7 L471.0,427.8 L472.6,426.9 L474.3,427.4 L475.9,427.7 L477.6,427.3 L479.1,427.2 L480.6,427.4 L482.1,427.1 L483.6,426.5 L483.6,448 L11,448 Z" fill="#eeeeee" shape-rendering="geometricPrecision"/>
<path d="M483.6,426.5 L485.3,426.2 L487.0,426.6 L488.8,425.9 L490.6,425.9 L492.3,425.2 L494.0,425.2 L496.6,422.9 L498.0,425.0 L499.5,427.9 L501.0,428.5 L502.5,429.0 L504.0,429.3 L505.5,430.0 L507.0,430.5 L508.5,430.5 L510.0,431.1 L511.5,430.8 L513.0,431.1 L514.5,431.3 L516.2,430.9 L518.0,430.0 L520.0,428.0 L522.0,426.9 L523.5,427.1 L525.0,427.5 L527.0,426.1 L529.0,424.9 L530.5,427.0 L532.0,427.9 L533.5,427.4 L535.0,427.0 L536.5,427.8 L538.0,428.8 L539.6,429.2 L541.3,429.2 L542.9,429.9 L544.5,429.2 L546.0,428.0 L547.5,426.9 L549.0,426.5 L550.9,425.3 L552.8,424.9 L555.0,424.2 L557.8,422.5 L560.0,424.0 L561.6,424.6 L563.2,424.9 L564.8,424.9 L566.4,424.9 L568.0,425.5 L570.1,425.8 L572.2,425.9 L573.9,425.7 L575.6,425.7 L577.3,426.4 L579.0,426.3 L579,448 L483.6,448 Z" fill="#bcc5f7" shape-rendering="geometricPrecision"/>
<path d="M11.0,429.5 L12.5,430.1 L14.0,431.5 L15.5,430.7 L17.0,430.8 L18.5,431.2 L20.0,431.8 L21.7,431.6 L23.3,430.9 L25.0,431.2 L26.7,430.3 L28.3,429.9 L30.0,430.0 L32.0,429.6 L33.5,428.3 L35.0,427.8 L36.5,428.8 L38.0,429.5 L40.0,430.5 L41.7,430.7 L43.3,431.6 L45.0,431.3 L46.7,431.3 L48.3,430.2 L50.0,430.0 L51.7,429.7 L53.3,430.0 L55.0,430.3 L56.7,429.9 L58.3,430.3 L60.0,430.3 L61.7,430.0 L63.3,430.1 L65.0,430.0 L66.8,429.5 L68.5,429.7 L70.2,430.2 L72.0,430.0 L73.5,430.0 L75.0,430.6 L76.5,430.7 L78.0,431.0 L79.8,431.4 L81.5,431.5 L83.2,431.1 L85.0,431.5 L86.7,431.9 L88.3,432.6 L90.0,432.5 L91.7,432.4 L93.3,433.4 L95.0,433.0 L96.7,433.1 L98.3,433.6 L100.0,433.5 L101.7,433.3 L103.3,432.7 L105.0,433.0 L106.7,433.2 L108.3,432.9 L110.0,432.8 L111.6,432.4 L113.2,432.7 L114.8,432.4 L116.4,432.2 L118.0,432.0 L119.8,432.4 L121.5,432.5 L123.2,432.0 L125.0,432.0 L126.7,431.4 L128.3,432.1 L130.0,431.9 L131.7,432.2 L133.3,431.9 L135.0,431.5 L136.7,431.7 L138.3,432.4 L140.0,432.0 L141.7,432.8 L143.3,432.8 L145.0,433.5 L146.7,433.4 L148.3,434.6 L150.0,434.2 L151.7,434.8 L153.3,435.3 L155.0,435.8 L156.7,435.6 L158.3,436.3 L160.0,436.7 L161.7,437.3 L163.3,437.5 L165.0,437.4 L166.7,436.9 L168.3,436.8 L170.0,436.5 L171.7,436.9 L173.3,436.7 L175.0,436.0 L176.5,435.3 L178.0,435.1 L179.5,434.8 L181.0,434.8 L182.7,434.8 L184.3,434.3 L186.0,434.5 L187.5,434.6 L189.0,434.8 L190.5,435.2 L192.0,435.9 L193.5,435.8 L195.0,435.8 L196.7,436.0 L198.3,436.1 L200.0,435.5 L201.7,436.5 L203.3,436.4 L205.0,436.2 L206.7,436.6 L208.3,436.3 L210.0,436.4 L211.7,436.2 L213.3,436.8 L215.0,436.8 L216.7,436.2 L218.3,436.3 L220.0,436.1 L221.7,436.2 L223.3,435.8 L225.0,436.2 L226.8,435.9 L228.5,435.9 L230.2,436.3 L232.0,436.5 L233.7,437.1 L235.4,437.0 L237.2,436.7 L238.9,436.9 L240.6,437.4 L242.2,437.3 L243.8,437.0 L245.4,437.8 L247.0,437.9 L248.6,437.4 L250.2,437.4 L251.8,436.9 L253.3,437.0 L254.9,437.2 L256.5,437.1 L258.1,437.8 L259.7,437.0 L261.3,436.9 L262.9,437.9 L264.5,437.4 L266.0,437.1 L267.5,437.7 L269.0,437.2 L270.5,437.9 L272.0,438.5 L273.5,438.5 L275.0,438.2 L276.7,438.0 L278.3,438.3 L280.0,438.1 L281.7,438.9 L283.3,438.7 L285.0,438.8 L286.7,438.4 L288.3,438.1 L290.0,438.5 L291.7,438.5 L293.3,438.1 L295.0,437.5 L296.7,437.7 L298.3,437.4 L300.0,436.6 L301.7,436.8 L303.3,436.4 L305.0,436.4 L306.8,435.6 L308.5,435.6 L310.2,435.2 L312.0,435.2 L313.5,435.4 L315.0,434.5 L316.5,434.8 L318.0,434.0 L319.6,434.3 L321.2,433.5 L322.8,433.4 L324.5,433.5 L326.3,433.8 L328.0,434.5 L329.7,435.0 L331.4,435.6 L333.0,435.8 L334.7,435.8 L336.4,436.0 L338.1,436.3 L339.9,435.5 L341.6,436.2 L343.3,436.6 L345.0,436.2 L346.6,436.7 L348.2,436.7 L349.8,436.6 L351.4,437.6 L353.0,437.3 L354.6,437.8 L356.2,438.3 L357.7,437.7 L359.3,437.7 L360.8,438.3 L362.4,438.0 L363.9,437.4 L365.5,437.4 L367.0,437.4 L368.6,437.8 L370.3,437.9 L372.0,436.9 L373.6,437.4 L375.3,437.3 L377.0,436.5 L378.5,436.1 L380.0,436.1 L381.5,435.4 L383.0,435.1 L384.5,435.4 L386.0,435.6 L387.5,435.6 L389.0,436.1 L390.5,435.6 L392.0,435.8 L393.5,436.2 L395.0,435.6 L396.5,435.7 L398.0,435.8 L399.5,435.8 L401.0,436.2 L402.5,436.1 L404.0,436.4 L405.5,436.2 L407.0,437.2 L408.5,436.7 L410.0,437.0 L411.5,437.2 L413.0,437.6 L414.5,437.1 L416.0,437.7 L417.5,437.3 L419.0,437.4 L420.6,437.2 L422.2,436.5 L423.8,436.8 L425.4,436.3 L427.0,436.5 L428.6,436.7 L430.1,435.9 L431.7,436.1 L433.2,436.2 L434.8,435.8 L436.5,435.3 L438.1,435.2 L439.8,434.9 L441.5,434.8 L443.1,433.7 L444.8,433.8 L446.4,433.4 L448.1,433.2 L449.8,433.6 L451.4,433.1 L453.1,433.0 L454.7,432.8 L456.5,432.7 L458.2,431.5 L460.0,431.0 L461.6,430.3 L463.1,429.6 L464.7,428.9 L466.3,428.4 L467.9,428.1 L469.4,427.7 L471.0,427.8 L472.6,426.9 L474.3,427.4 L475.9,427.7 L477.6,427.3 L479.1,427.2 L480.6,427.4 L482.1,427.1 L483.6,426.5" fill="none" stroke="#8e8e8e" stroke-width="1.2" shape-rendering="geometricPrecision" stroke-linejoin="round"/>
<path d="M483.6,426.5 L485.3,426.2 L487.0,426.6 L488.8,425.9 L490.6,425.9 L492.3,425.2 L494.0,425.2 L496.6,422.9 L498.0,425.0 L499.5,427.9 L501.0,428.5 L502.5,429.0 L504.0,429.3 L505.5,430.0 L507.0,430.5 L508.5,430.5 L510.0,431.1 L511.5,430.8 L513.0,431.1 L514.5,431.3 L516.2,430.9 L518.0,430.0 L520.0,428.0 L522.0,426.9 L523.5,427.1 L525.0,427.5 L527.0,426.1 L529.0,424.9 L530.5,427.0 L532.0,427.9 L533.5,427.4 L535.0,427.0 L536.5,427.8 L538.0,428.8 L539.6,429.2 L541.3,429.2 L542.9,429.9 L544.5,429.2 L546.0,428.0 L547.5,426.9 L549.0,426.5 L550.9,425.3 L552.8,424.9 L555.0,424.2 L557.8,422.5 L560.0,424.0 L561.6,424.6 L563.2,424.9 L564.8,424.9 L566.4,424.9 L568.0,425.5 L570.1,425.8 L572.2,425.9 L573.9,425.7 L575.6,425.7 L577.3,426.4 L579.0,426.3" fill="none" stroke="#6a6ac0" stroke-width="1.2" shape-rendering="geometricPrecision" stroke-linejoin="round"/>
<g shape-rendering="geometricPrecision">
<rect x="198.5" y="436" width="14.5" height="10" fill="#f4f4f4"/>
<text x="199.40" y="444.40" font-size="10.6" fill="#333340" textLength="12.60" lengthAdjust="spacingAndGlyphs">24</text>
<rect x="387.5" y="436" width="14.5" height="10" fill="#f4f4f4"/>
<text x="388.60" y="444.40" font-size="10.6" fill="#333340" textLength="12.00" lengthAdjust="spacingAndGlyphs">25</text>
</g>
<rect x="483" y="411" width="1" height="37" fill="#1aa0e0"/>
<rect x="579" y="411" width="1" height="38" fill="#1aa0e0"/>
<rect x="11" y="449" width="568" height="10" fill="url(#sb)"/>
<rect x="490" y="449" width="82" height="10" fill="#222"/>
<rect x="491" y="449" width="80" height="10" fill="url(#th)"/>
<rect x="571" y="449" width="9" height="10" fill="#222"/>
<rect x="572" y="449" width="7" height="10" fill="url(#gr)"/>
<rect x="477.5" y="415.5" width="13" height="29" fill="url(#hd)" stroke="#222" stroke-width="1" shape-rendering="geometricPrecision"/>
<path d="M486.6,425.6 L486.6,433.2 L481.6,429.4 Z" fill="#000" shape-rendering="geometricPrecision"/>
<rect x="572.5" y="415.5" width="13" height="29" fill="url(#hd)" stroke="#222" stroke-width="1" shape-rendering="geometricPrecision"/>
<path d="M576.6,425.6 L576.6,433.2 L581.6,429.4 Z" fill="#000" shape-rendering="geometricPrecision"/>
</svg>
</body></html>
